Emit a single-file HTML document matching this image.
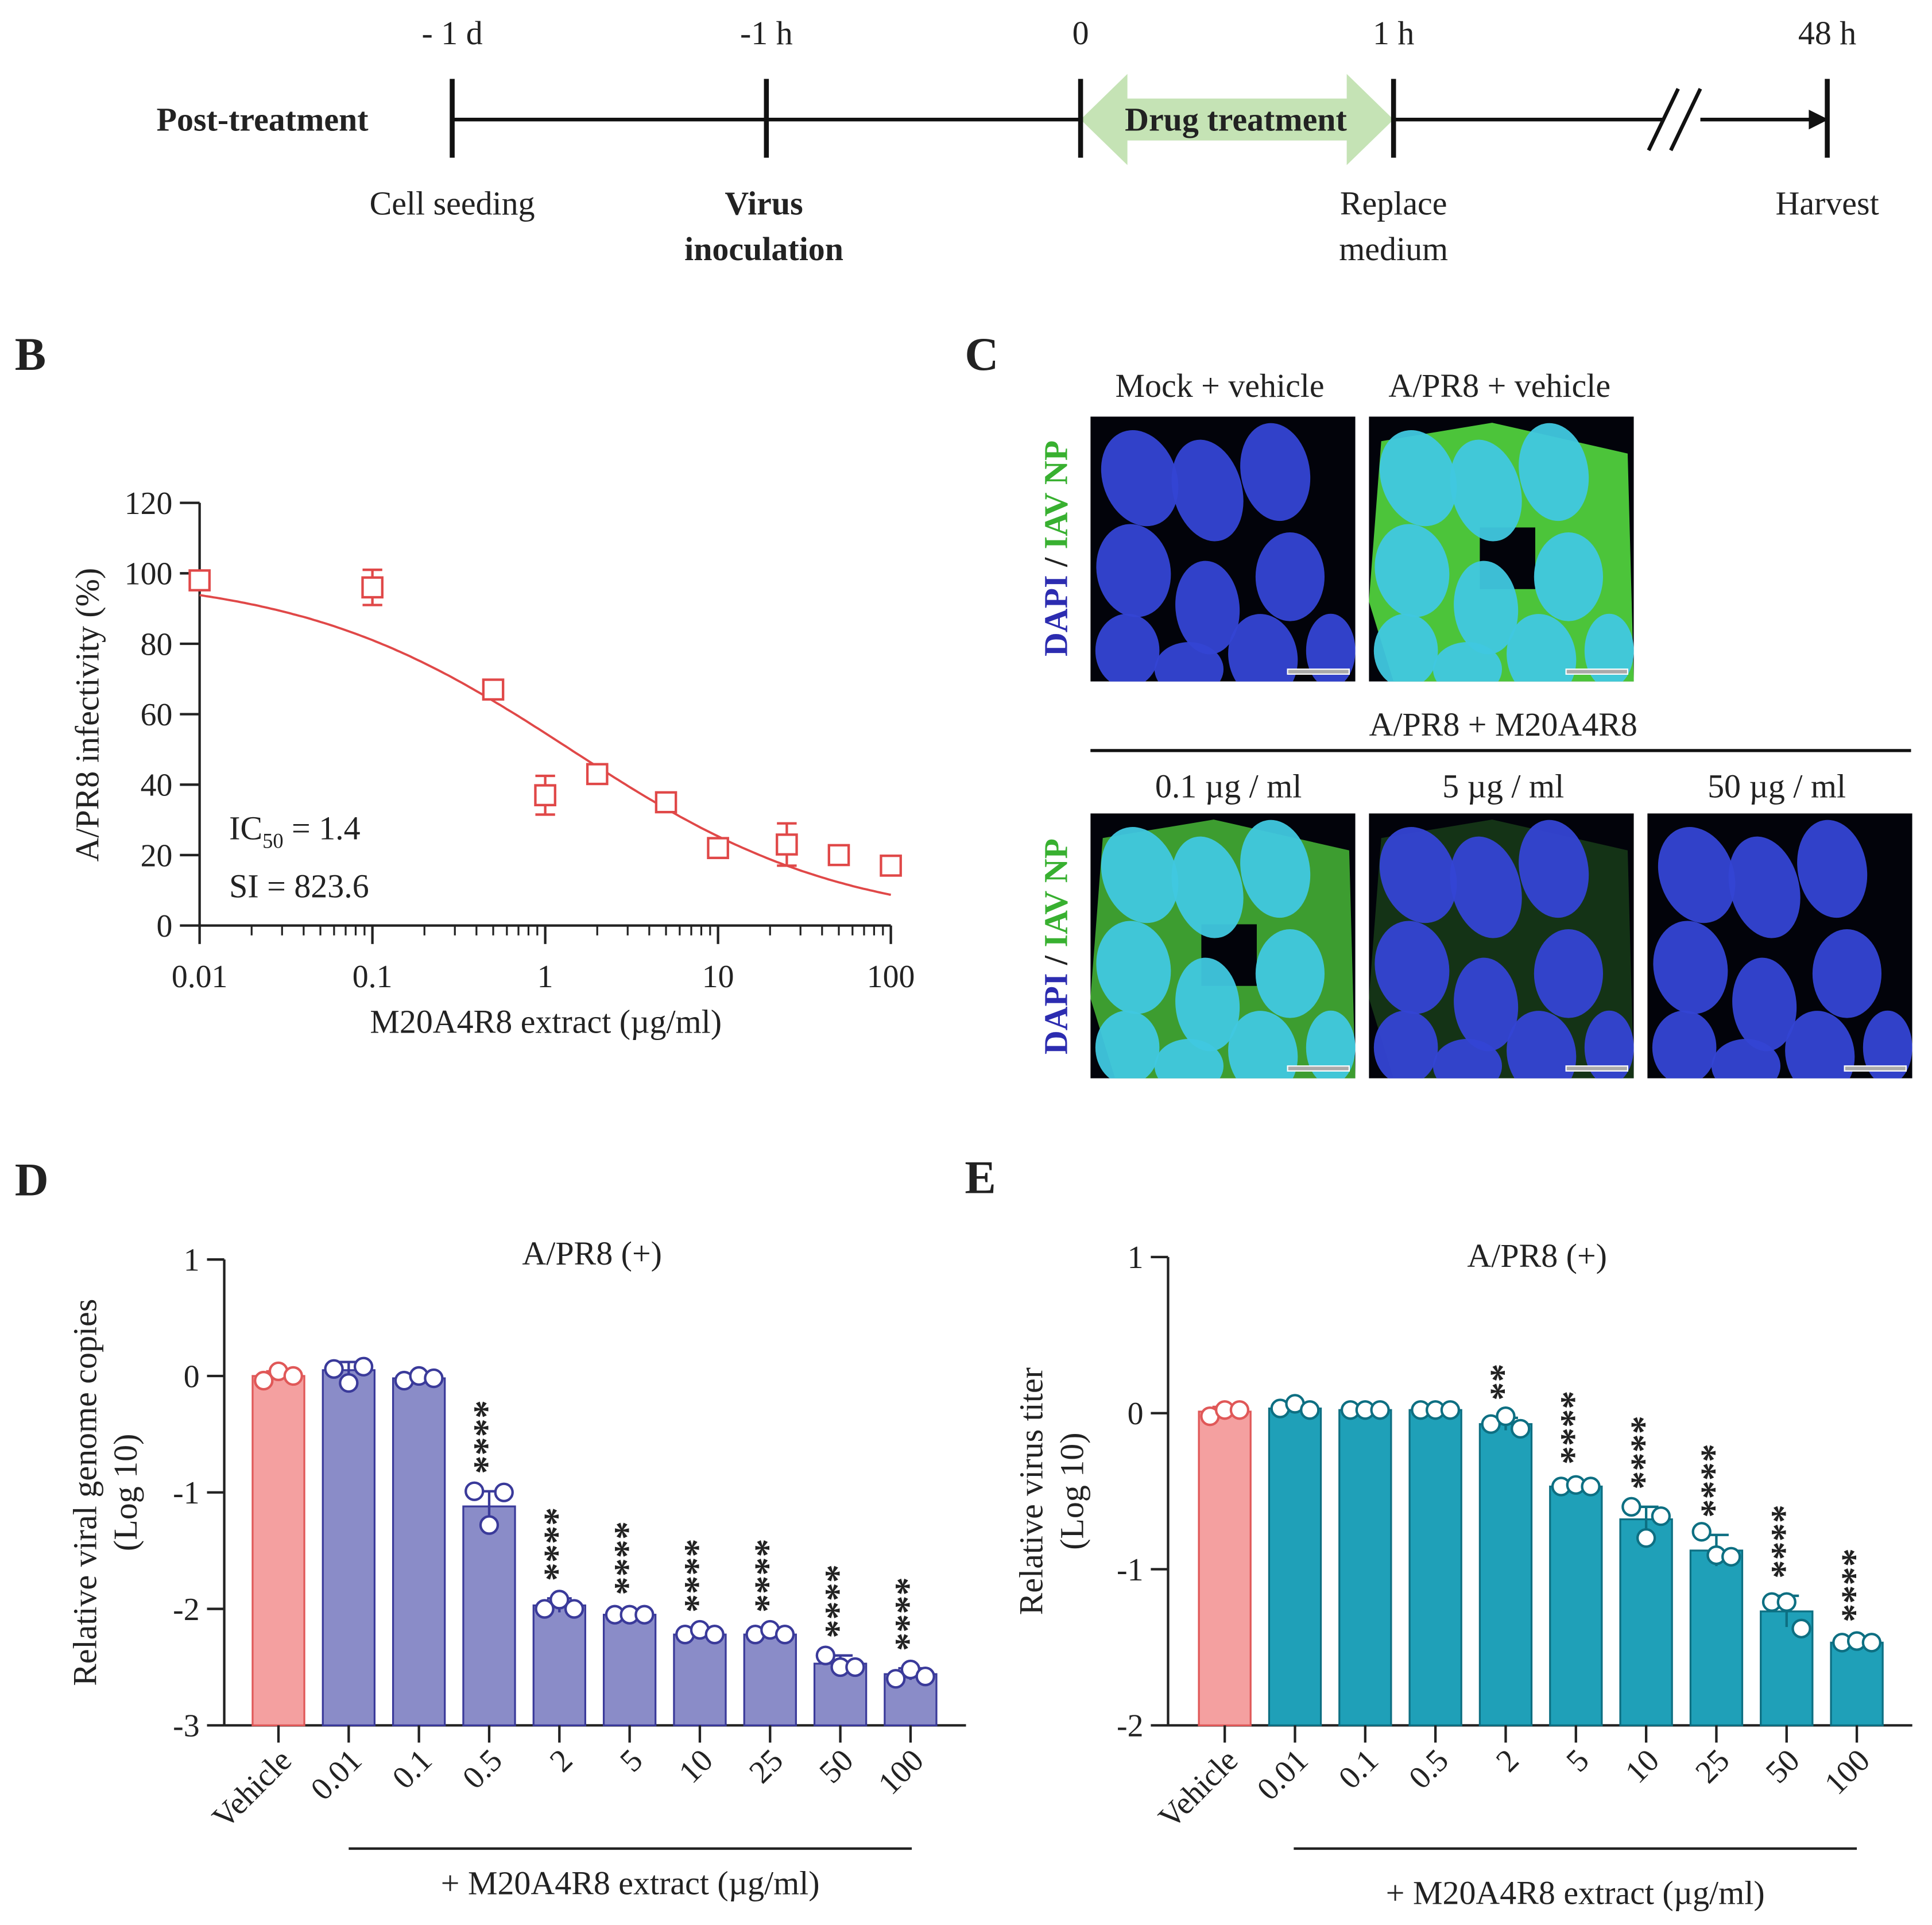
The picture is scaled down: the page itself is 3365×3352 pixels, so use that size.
<!DOCTYPE html>
<html><head><meta charset="utf-8"><style>
html,body{margin:0;padding:0;background:#fff}
svg{display:block}
text{font-family:"Liberation Serif",serif;fill:#222}
</style></head><body>
<svg id="fig" width="3365" height="3352" viewBox="0 0 1568 1562" preserveAspectRatio="none" xmlns="http://www.w3.org/2000/svg">
<defs id="defs"></defs>
<g font-size="27">
<text x="213" y="106" text-anchor="middle" font-weight="bold">Post-treatment</text>
<line x1="367" y1="97" x2="877" y2="97" stroke="#111" stroke-width="3"/>
<line x1="1131" y1="97" x2="1470" y2="97" stroke="#111" stroke-width="3"/>
<polygon points="1468,89 1484,97 1468,105" fill="#111"/>
<rect x="1350" y="80" width="30" height="34" fill="#fff"/>
<line x1="1338" y1="122" x2="1362" y2="72" stroke="#111" stroke-width="3"/>
<line x1="1356" y1="122" x2="1380" y2="72" stroke="#111" stroke-width="3"/>
<polygon points="877,97 915,60 915,80 1093,80 1093,60 1131,97 1093,134 1093,114 915,114 915,134" fill="#c5e3b5"/>
<text x="1003" y="106" text-anchor="middle" font-weight="bold">Drug treatment</text>
<g stroke="#111" stroke-width="4">
<line x1="367" y1="64" x2="367" y2="128"/><line x1="622" y1="64" x2="622" y2="128"/><line x1="877" y1="64" x2="877" y2="128"/><line x1="1131" y1="64" x2="1131" y2="128"/><line x1="1483" y1="64" x2="1483" y2="128"/>
</g>
<text x="367" y="36" text-anchor="middle">- 1 d</text>
<text x="622" y="36" text-anchor="middle">-1 h</text>
<text x="877" y="36" text-anchor="middle">0</text>
<text x="1131" y="36" text-anchor="middle">1 h</text>
<text x="1483" y="36" text-anchor="middle">48 h</text>
<text x="367" y="174" text-anchor="middle">Cell seeding</text>
<text x="620" y="174" text-anchor="middle" font-weight="bold">Virus</text>
<text x="620" y="211" text-anchor="middle" font-weight="bold">inoculation</text>
<text x="1131" y="174" text-anchor="middle">Replace</text>
<text x="1131" y="211" text-anchor="middle">medium</text>
<text x="1483" y="174" text-anchor="middle">Harvest</text>
</g>
<text x="12" y="300" font-size="38" font-weight="bold">B</text>
<text x="783" y="300" font-size="38" font-weight="bold">C</text>
<text x="12" y="970" font-size="38" font-weight="bold">D</text>
<text x="783" y="968" font-size="38" font-weight="bold">E</text>
<g id="B"></g>
<g id="C"></g>
<g id="D"></g>
<g id="E"></g>
</svg>
<script>
// Panel B data
const bConc=[0.01,0.1,0.5,1,2,5,10,25,50,100];
const bMean=[98,96,67,37,43,35,22,23,20,17];
const bErr=[0,5,0,5.5,0,1.5,0,6,0,0];
const bTicksY=[0,20,40,60,80,100,120];
const bTicksX=[0.01,0.1,1,10,100];
const bTickXLabels=["0.01","0.1","1","10","100"];
const bIC50=1.4, bHill=0.55, bTop=100, bBottom=0;
// Panel D data
const dCats=["Vehicle","0.01","0.1","0.5","2","5","10","25","50","100"];
const dVals=[0.0,0.05,-0.02,-1.12,-1.97,-2.05,-2.22,-2.22,-2.47,-2.56];
const dSd=[0.04,0.07,0.03,0.13,0.06,0.02,0.04,0.04,0.07,0.05];
const dPts=[[-0.04,0.04,0.0],[0.06,-0.06,0.08],[-0.04,0.0,-0.02],[-0.99,-1.28,-1.0],[-2.0,-1.92,-2.0],[-2.05,-2.05,-2.05],[-2.22,-2.18,-2.22],[-2.22,-2.18,-2.22],[-2.4,-2.5,-2.5],[-2.6,-2.52,-2.58]];
const dStars=["","","","****","****","****","****","****","****","****"];
const dTicks=[1,0,-1,-2,-3];
// Panel E data
const eCats=["Vehicle","0.01","0.1","0.5","2","5","10","25","50","100"];
const eVals=[0.01,0.03,0.02,0.02,-0.07,-0.47,-0.68,-0.88,-1.27,-1.47];
const eSd=[0.03,0.03,0.01,0.01,0.04,0.03,0.08,0.1,0.1,0.02];
const ePts=[[-0.02,0.02,0.02],[0.03,0.06,0.02],[0.02,0.02,0.02],[0.02,0.02,0.02],[-0.07,-0.02,-0.1],[-0.47,-0.46,-0.47],[-0.6,-0.8,-0.66],[-0.76,-0.91,-0.92],[-1.21,-1.21,-1.38],[-1.47,-1.46,-1.47]];
const eStars=["","","","","**","****","****","****","****","****"];
const eTicks=[1,0,-1,-2];

const NS="http://www.w3.org/2000/svg";
function mk(parent,tag,attrs,txt){const e=document.createElementNS(NS,tag);for(const k in attrs)e.setAttribute(k,attrs[k]);if(txt!==undefined)e.textContent=txt;parent.appendChild(e);return e;}

// ---- Panel B
(function(){
const g=document.getElementById('B');
const x=v=>162+(Math.log10(v)+2)*140.25;
const y=v=>751-v*2.858;
let e;
e=mk(g,'line',{x1:162,y1:408,x2:162,y2:751,stroke:'#222','stroke-width':2});


e=mk(g,'line',{x1:162,y1:751,x2:723,y2:751,stroke:'#222','stroke-width':2});


bTicksY.forEach(t=>{mk(g,'line',{x1:146,y1:y(t),x2:162,y2:y(t),stroke:'#222','stroke-width':2});
 e=mk(g,'text',{x:140,y:y(t)+9,'text-anchor':'end','font-size':26},t);
 
 });
bTicksX.forEach((t,i)=>{mk(g,'line',{x1:x(t),y1:751,x2:x(t),y2:766,stroke:'#222','stroke-width':2});
 e=mk(g,'text',{x:x(t),y:801,'text-anchor':'middle','font-size':26},bTickXLabels[i]);
 
 
 if(i<4)for(let k=2;k<10;k++)mk(g,'line',{x1:x(t*k),y1:751,x2:x(t*k),y2:759,stroke:'#222','stroke-width':1.5});});
e=mk(g,'text',{x:443,y:838,'text-anchor':'middle','font-size':27},'M20A4R8 extract (µg/ml)');


e=mk(g,'text',{x:80,y:580,'text-anchor':'middle','font-size':27,transform:'rotate(-90 80 580)'},'A/PR8 infectivity (%)');


let d='';for(let i=0;i<=200;i++){const lv=-2+4*i/200,c=Math.pow(10,lv);const v=bBottom+(bTop-bBottom)/(1+Math.pow(c/bIC50,bHill));d+=(i?'L':'M')+x(c).toFixed(1)+','+y(v).toFixed(1);}
e=mk(g,'path',{d:d,fill:'none',stroke:'#e04848','stroke-width':1.8});


bConc.forEach((c,i)=>{const cx=x(c),cy=y(bMean[i]);
 if(bErr[i]>0){mk(g,'path',{d:`M${cx},${y(bMean[i]+bErr[i])}V${y(bMean[i]-bErr[i])}M${cx-8},${y(bMean[i]+bErr[i])}h16M${cx-8},${y(bMean[i]-bErr[i])}h16`,stroke:'#e04848','stroke-width':2,fill:'none'});}
 e=mk(g,'rect',{x:cx-8,y:cy-8,width:16,height:16,fill:'#fff',stroke:'#e04848','stroke-width':2});
 
 });
e=mk(g,'text',{x:186,y:681,'font-size':27},'IC');mk(e,'tspan',{'font-size':17,dy:7},'50');mk(e,'tspan',{dy:-7},' = 1.4');


e=mk(g,'text',{x:186,y:728,'font-size':27},'SI = 823.6');


})();

// ---- Panel C
(function(){
const g=document.getElementById('C');
const defs=document.getElementById('defs');
const imgs=[[885,338,0,'mock-vehicle'],[1111,338,1,'apr8-vehicle'],[885,660,0.8,'dose-0-1'],[1111,660,0.25,'dose-5'],[1337,660,0,'dose-50']];
const nuc=[[40,50,30,40,-20],[95,60,28,42,-15],[150,45,28,40,-10],[35,125,30,38,-10],[162,130,28,36,0],[95,155,26,38,-5],[30,190,26,30,0],[140,195,28,35,-10],[80,205,28,22,0],[195,190,20,30,0]];
let e;
imgs.forEach((im,k)=>{const [X,Y,gr,nm]=im;
 const cp=mk(defs,'clipPath',{id:'clip'+k});
 mk(cp,'rect',{x:X,y:Y,width:215,height:215});
 const sg=mk(g,'g',{'clip-path':`url(#clip${k})`});
 
 
 mk(sg,'rect',{x:X,y:Y,width:215,height:215,fill:'#02030a'});
 if(gr>0){mk(sg,'path',{d:`M${X+10},${Y+20}L${X+100},${Y+5}L${X+210},${Y+30}L${X+215},${Y+215}L${X+20},${Y+215}L${X},${Y+150}Z`,fill:'#4cc43a',opacity:gr});
  mk(sg,'rect',{x:X+90,y:Y+90,width:45,height:50,fill:'#02030a',opacity:gr>0.5?1:0});}
 nuc.forEach(n=>mk(sg,'ellipse',{cx:X+n[0],cy:Y+n[1],rx:n[2],ry:n[3],transform:`rotate(${n[4]} ${X+n[0]} ${Y+n[1]})`,fill:gr>0.5?'#40c8e0':'#3444d4',opacity:0.95}));
 mk(sg,'rect',{x:X+160,y:Y+205,width:50,height:4,fill:'#aaa',stroke:'#fff','stroke-width':1});
});
const lab=[[990,322,'Mock + vehicle'],[1217,322,'A/PR8 + vehicle'],[1220,597,'A/PR8 + M20A4R8'],[997,647,'0.1 µg / ml'],[1220,647,'5 µg / ml'],[1442,647,'50 µg / ml']];
lab.forEach(l=>{e=mk(g,'text',{x:l[0],y:l[1],'text-anchor':'middle','font-size':27},l[2]);
 
 });
mk(g,'line',{x1:885,y1:609,x2:1551,y2:609,stroke:'#111','stroke-width':2.5});
[445,768].forEach(cy=>{e=mk(g,'text',{x:866,y:cy,'text-anchor':'middle','font-size':27,'font-weight':'bold',transform:`rotate(-90 866 ${cy})`});
 mk(e,'tspan',{fill:'#2c2cb0'},'DAPI');mk(e,'tspan',{fill:'#222'},' / ');mk(e,'tspan',{fill:'#38b030'},'IAV NP');
 
 });
})();

// ---- Bar panels
function barPanel(id,cats,vals,sd,pts,stars,ticks,ax,top,bot,centers,fill,stroke,ylab1,ylab2,ylabX,underX1,underX2,titleY,extY){
const g=document.getElementById(id);
const vmax=ticks[0],vmin=ticks[ticks.length-1];
const y=v=>top+(vmax-v)*(bot-top)/(vmax-vmin);
let e;
e=mk(g,'line',{x1:ax,y1:top,x2:ax,y2:bot,stroke:'#222','stroke-width':2});


e=mk(g,'line',{x1:ax,y1:bot,x2:centers[centers.length-1]+45,y2:bot,stroke:'#222','stroke-width':2});


ticks.forEach(t=>{mk(g,'line',{x1:ax-14,y1:y(t),x2:ax,y2:y(t),stroke:'#222','stroke-width':2});
 e=mk(g,'text',{x:ax-20,y:y(t)+9,'text-anchor':'end','font-size':26},t);
 
 });
cats.forEach((c,i)=>{const cx=centers[i],v=vals[i];
 const f=i===0?'#f4a0a0':fill, s=i===0?'#e05858':stroke;
 e=mk(g,'rect',{x:cx-21,y:Math.min(y(v),bot),width:42,height:Math.abs(bot-y(v)),fill:f,stroke:s,'stroke-width':1.5});
 
 
 const yt=y(v+sd[i]),yb=y(v-sd[i]);
 mk(g,'path',{d:`M${cx},${yt}V${yb}M${cx-10},${yt}h20`,stroke:s,'stroke-width':2,fill:'none'});
 pts[i].forEach((p,j)=>{e=mk(g,'circle',{cx:cx+(j-1)*12,cy:y(p),r:7,fill:'#fff',stroke:s,'stroke-width':2});
  
  });
 mk(g,'line',{x1:cx,y1:bot,x2:cx,y2:bot+14,stroke:'#222','stroke-width':2});
 e=mk(g,'text',{x:cx+12,y:bot+30,'text-anchor':'end','font-size':26,transform:`rotate(-45 ${cx+12} ${bot+30})`},c);
 
 
 if(stars[i]){const sy=y(v+sd[i])-14;
  e=mk(g,'text',{x:cx+8,y:sy,'font-size':30,'font-weight':'bold',transform:`rotate(-90 ${cx+8} ${sy})`},stars[i]);
  
  }
});
e=mk(g,'text',{x:(ax+centers[9])/2+20,y:titleY,'text-anchor':'middle','font-size':27},'A/PR8 (+)');


const my=(top+bot)/2;
e=mk(g,'text',{x:ylabX,y:my,'text-anchor':'middle','font-size':27,transform:`rotate(-90 ${ylabX} ${my})`},ylab1);


e=mk(g,'text',{x:ylabX+33,y:my,'text-anchor':'middle','font-size':27,transform:`rotate(-90 ${ylabX+33} ${my})`},ylab2);


mk(g,'line',{x1:underX1,y1:bot+100,x2:underX2,y2:bot+100,stroke:'#222','stroke-width':2});
e=mk(g,'text',{x:(underX1+underX2)/2,y:extY,'text-anchor':'middle','font-size':27},'+ M20A4R8 extract (µg/ml)');


}
barPanel('D',dCats,dVals,dSd,dPts,dStars,dTicks,182,1022,1400,[226,283,340,397,454,511,568,625,682,739],'#8a8cc8','#3a3a9a','Relative viral genome copies','(Log 10)',78,283,740,1026,1537);
barPanel('E',eCats,eVals,eSd,ePts,eStars,eTicks,948,1020,1400,[994,1051,1108,1165,1222,1279,1336,1393,1450,1507],'#1fa0b8','#0d6f82','Relative virus titer','(Log 10)',846,1050,1507,1028,1545);
</script>
</body></html>
